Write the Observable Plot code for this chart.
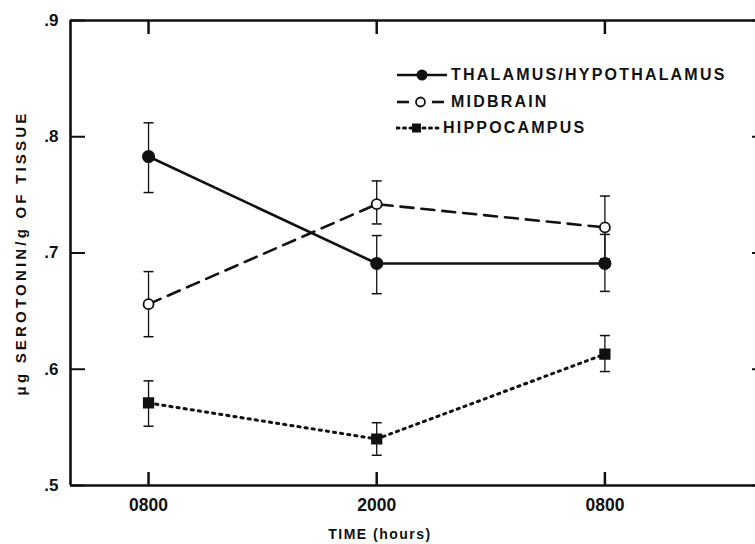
<!DOCTYPE html>
<html><head><meta charset="utf-8">
<script src="https://cdn.jsdelivr.net/npm/d3@7"></script>
<script src="https://cdn.jsdelivr.net/npm/@observablehq/plot@0.6"></script>
<style>
body{margin:0;background:#fff;}
#wrap{position:relative;width:755px;height:544px;font-family:"Liberation Sans",Arial,sans-serif;color:#111;}
#wrap > svg{position:absolute;left:0;top:0;}
.legend{position:absolute;left:396px;top:62px;font-weight:bold;font-size:16px;letter-spacing:2.2px;}
.legend .row{display:flex;align-items:center;height:26.5px;white-space:nowrap;}
.legend svg{margin-right:3px;}
.xlabel{position:absolute;left:280px;width:200px;top:526px;text-align:center;font-weight:bold;font-size:14px;letter-spacing:1.5px;}
g[aria-label="y-axis label"] text{font-size:15px;font-weight:bold;letter-spacing:3.2px;}
</style></head><body><div id="wrap"></div>
<script>
// ---- data ----
const timeIndex = [0, 1, 2];
const timeLabels = ["0800", "2000", "0800"];
const xTitle = "TIME (hours)";
const yTitle = "μg SEROTONIN/g OF TISSUE";
const seriesNames = ["THALAMUS/HYPOTHALAMUS", "MIDBRAIN", "HIPPOCAMPUS"];
const thalamusMean = [0.783, 0.691, 0.691];
const thalamusHi   = [0.812, 0.715, 0.716];
const thalamusLo   = [0.752, 0.665, 0.667];
const midbrainMean = [0.656, 0.742, 0.722];
const midbrainHi   = [0.684, 0.762, 0.749];
const midbrainLo   = [0.628, 0.725, 0.695];
const hippoMean    = [0.571, 0.540, 0.613];
const hippoHi      = [0.590, 0.554, 0.629];
const hippoLo      = [0.551, 0.526, 0.598];
const yTicks = [0.5, 0.6, 0.7, 0.8, 0.9];
const yTickLabels = [".5", ".6", ".7", ".8", ".9"];
const yDomain = [0.5, 0.9];
const xDomain = [-0.342, 2.66];

const means = [thalamusMean, midbrainMean, hippoMean];
const his = [thalamusHi, midbrainHi, hippoHi];
const los = [thalamusLo, midbrainLo, hippoLo];
const rows = [];
seriesNames.forEach((s, i) => timeIndex.forEach((t, j) => rows.push({series: s, t, mean: means[i][j], hi: his[i][j], lo: los[i][j]})));
const ofSeries = s => rows.filter(d => d.series === s);

const capSymbol = {draw(ctx, size) { const r = Math.sqrt(size / Math.PI); ctx.moveTo(-r, 0); ctx.lineTo(r, 0); }};
const ink = "#111";

const chart = Plot.plot({
  width: 755, height: 544,
  marginLeft: 70, marginTop: 20, marginBottom: 59, marginRight: 0,
  style: {fontFamily: "Liberation Sans, Arial, sans-serif", color: ink, background: "transparent"},
  x: {domain: xDomain},
  y: {domain: yDomain},
  marks: [
    // frame (left, top, bottom)
    Plot.ruleY(yDomain, {stroke: ink, strokeWidth: 2.6}),
    Plot.ruleX([xDomain[0]], {stroke: ink, strokeWidth: 2.6}),
    // axes
    Plot.axisY({ticks: yTicks, tickSize: 0, tickPadding: 12, tickFormat: d => yTickLabels[yTicks.indexOf(d)], fontSize: 17, fontWeight: "bold",
      label: yTitle, labelAnchor: "center", labelArrow: "none", labelOffset: 55}),
    Plot.axisY({ticks: yTicks, tickSize: -15, tickFormat: () => "", label: null, strokeWidth: 2}),
    Plot.axisY({anchor: "right", ticks: yTicks, tickSize: -4, tickFormat: () => "", label: null, strokeWidth: 2}),
    Plot.axisX({ticks: timeIndex, tickSize: 0, tickPadding: 13, tickFormat: d => timeLabels[d], fontSize: 17.5, fontWeight: "bold", label: null}),
    Plot.axisX({ticks: timeIndex, tickSize: -13, tickFormat: () => "", label: null, strokeWidth: 2.5}),
    Plot.axisX({anchor: "top", ticks: timeIndex, tickSize: -13, tickFormat: () => "", label: null, strokeWidth: 2.5}),
    // error bars
    Plot.ruleX(rows, {x: "t", y1: "lo", y2: "hi", stroke: ink, strokeWidth: 1.3}),
    Plot.dot(rows, {x: "t", y: "hi", symbol: capSymbol, r: 5, stroke: ink, strokeWidth: 1.5, fill: "none"}),
    Plot.dot(rows, {x: "t", y: "lo", symbol: capSymbol, r: 5, stroke: ink, strokeWidth: 1.5, fill: "none"}),
    // lines
    Plot.line(ofSeries(seriesNames[0]), {x: "t", y: "mean", stroke: ink, strokeWidth: 2.6}),
    Plot.line(ofSeries(seriesNames[1]), {x: "t", y: "mean", stroke: ink, strokeWidth: 2.6, strokeDasharray: "13,8"}),
    Plot.line(ofSeries(seriesNames[2]), {x: "t", y: "mean", stroke: ink, strokeWidth: 3, strokeDasharray: "2.2,5", strokeLinecap: "round"}),
    // markers
    Plot.dot(ofSeries(seriesNames[0]), {x: "t", y: "mean", r: 5.8, fill: ink, stroke: ink}),
    Plot.dot(ofSeries(seriesNames[1]), {x: "t", y: "mean", r: 5, fill: "white", stroke: ink, strokeWidth: 1.8}),
    Plot.dot(ofSeries(seriesNames[2]), {x: "t", y: "mean", r: 5.5, symbol: "square", fill: ink, stroke: ink})
  ]
});
const wrap = document.getElementById("wrap");
wrap.appendChild(chart);

// x title
const xl = document.createElement("div");
xl.className = "xlabel";
xl.textContent = xTitle;
wrap.appendChild(xl);

// legend
const legend = document.createElement("div");
legend.className = "legend";
const samples = [
  `<svg width="52" height="14"><line x1="1" y1="7" x2="51" y2="7" stroke="${ink}" stroke-width="2.6"/><circle cx="26" cy="7" r="5.5" fill="${ink}"/></svg>`,
  `<svg width="52" height="14"><line x1="1" y1="7" x2="13" y2="7" stroke="${ink}" stroke-width="2.6"/><line x1="36" y1="7" x2="48" y2="7" stroke="${ink}" stroke-width="2.6"/><circle cx="24.5" cy="7" r="4.5" fill="white" stroke="${ink}" stroke-width="1.8"/></svg>`,
  `<svg width="44" height="14"><line x1="1" y1="7" x2="43" y2="7" stroke="${ink}" stroke-width="3" stroke-dasharray="2,4.5" stroke-linecap="round"/><rect x="16" y="2.5" width="9" height="9" fill="${ink}"/></svg>`
];
seriesNames.forEach((s, i) => {
  const row = document.createElement("div");
  row.className = "row";
  row.innerHTML = samples[i] + `<span>${s}</span>`;
  legend.appendChild(row);
});
wrap.appendChild(legend);
</script>
</body></html>
